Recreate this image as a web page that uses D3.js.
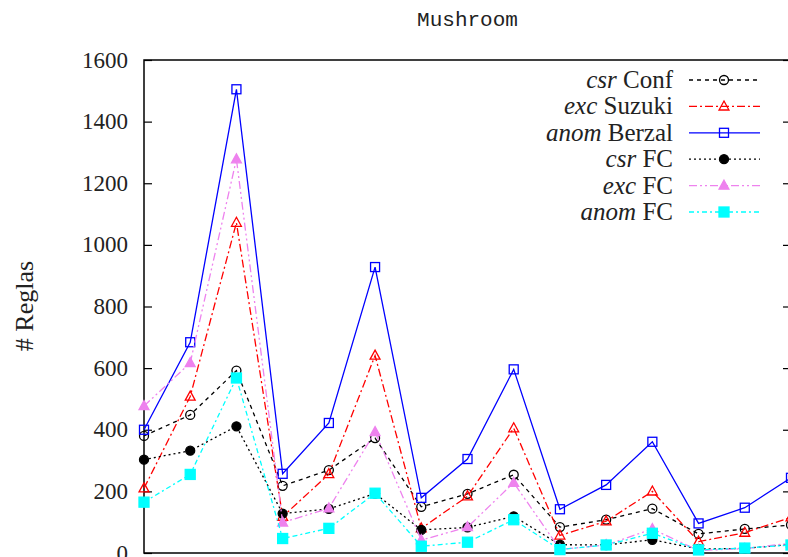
<!DOCTYPE html>
<html>
<head>
<meta charset="utf-8">
<script src="https://cdn.jsdelivr.net/npm/d3@7/dist/d3.min.js"></script>
<style>
  body { margin: 0; background: #fff; }
  #d3Container { width: 788px; height: 557px; overflow: hidden; }
</style>
</head>
<body>
<div id="d3Container"></div>
<script>
const categories = d3.range(15)
const yTicks = [0, 200, 400, 600, 800, 1000, 1200, 1400, 1600]

const csrConf = [380, 448, 592, 218, 269, 373, 150, 192, 254, 84, 108, 144, 62, 78, 91]
const excSuzuki = [210, 508, 1072, 118, 256, 641, 80, 184, 405, 57, 103, 200, 37, 66, 116]
const anomBerzal = [400, 684, 1505, 257, 422, 928, 179, 305, 596, 142, 221, 361, 96, 147, 244]
const csrFC = [303, 332, 411, 128, 143, 193, 75, 83, 119, 27, 26, 43, 13, 15, 28]
const excFC = [477, 617, 1278, 99, 145, 393, 42, 84, 228, 12, 26, 78, 8, 14, 32]
const anomFC = [165, 255, 568, 47, 80, 194, 22, 35, 108, 11, 26, 64, 10, 16, 26]

const series = [
  {it: 'csr', name: 'Conf', values: csrConf, color: '#000', dash: '4,4', marker: 'circle', fill: false},
  {it: 'exc', name: 'Suzuki', values: excSuzuki, color: '#ff0000', dash: '8,3,2,3', marker: 'triangle', fill: false},
  {it: 'anom', name: 'Berzal', values: anomBerzal, color: '#0000ff', dash: null, marker: 'square', fill: false},
  {it: 'csr', name: 'FC', values: csrFC, color: '#000', dash: '2,3', marker: 'circle', fill: true},
  {it: 'exc', name: 'FC', values: excFC, color: '#ee82ee', dash: '8,3,2,3,2,3', marker: 'triangle', fill: true},
  {it: 'anom', name: 'FC', values: anomFC, color: '#00ffff', dash: '5,3,2,3', marker: 'square', fill: true}
]

const width = 788
const height = 557
const plot = {left: 144, right: 791, top: 60, bottom: 553}
const SERIF = '"Liberation Serif", "DejaVu Serif", serif'

const xScale = d3.scaleLinear().domain([0, categories.length - 1]).range([plot.left, plot.right])
const yScale = d3.scaleLinear().domain([0, 1600]).range([plot.bottom, plot.top])

const svg = d3.select('#d3Container')
  .append('svg')
  .attr('width', width)
  .attr('height', height)

// frame
svg.append('rect')
  .attr('x', plot.left).attr('y', plot.top)
  .attr('width', plot.right - plot.left).attr('height', plot.bottom - plot.top)
  .attr('fill', 'none').attr('stroke', '#000').attr('stroke-width', 1.5)

// y axis left + mirrored right, ticks inward
svg.append('g').attr('transform', `translate(${plot.left}, 0)`)
  .call(d3.axisRight(yScale).tickValues(yTicks).tickSize(8).tickFormat(''))
  .call(g => g.select('.domain').remove())
  .call(g => g.selectAll('line').attr('stroke-width', 1.2))

svg.append('g').attr('transform', `translate(${plot.right}, 0)`)
  .call(d3.axisLeft(yScale).tickValues(yTicks).tickSize(8).tickFormat(''))
  .call(g => g.select('.domain').remove())
  .call(g => g.selectAll('line').attr('stroke-width', 1.2))

svg.selectAll('text.ylab')
  .data(yTicks)
  .enter()
  .append('text')
  .classed('ylab', true)
  .attr('x', 128).attr('y', d => yScale(d)).attr('dy', 7.5)
  .attr('text-anchor', 'end').attr('font-family', SERIF).attr('font-size', 23).attr('fill', '#222')
  .text(d => d)

// title and y label
svg.append('text')
  .attr('x', (plot.left + plot.right) / 2).attr('y', 26)
  .attr('text-anchor', 'middle').attr('font-family', '"Liberation Mono", "DejaVu Sans Mono", monospace')
  .attr('font-size', 21).attr('fill', '#222')
  .text('Mushroom')

svg.append('text')
  .attr('transform', 'translate(33, 306) rotate(-90)')
  .attr('text-anchor', 'middle').attr('font-family', SERIF).attr('font-size', 26).attr('fill', '#222')
  .text('# Reglas')

function drawMarker(sel, s, size) {
  const fill = s.fill ? s.color : 'none'
  if (s.marker === 'circle') {
    sel.append('circle').attr('r', 4.5)
      .attr('fill', fill).attr('stroke', s.color).attr('stroke-width', 1.3)
  } else if (s.marker === 'square') {
    const a = s.fill ? size + 1 : size
    sel.append('rect').attr('x', -a / 2).attr('y', -a / 2).attr('width', a).attr('height', a)
      .attr('fill', fill).attr('stroke', s.color).attr('stroke-width', 1.3)
  } else {
    const h = size
    sel.append('path')
      .attr('d', `M0,${-h * 0.6} L${h * 0.55},${h * 0.4} L${-h * 0.55},${h * 0.4} Z`)
      .attr('fill', fill).attr('stroke', s.color).attr('stroke-width', 1.3)
  }
}

const line = d3.line().x((d, i) => xScale(categories[i])).y(d => yScale(d))

const plotG = svg.append('g')

series.forEach(s => {
  plotG.append('path')
    .datum(s.values)
    .attr('d', line)
    .attr('fill', 'none').attr('stroke', s.color).attr('stroke-width', 1.3)
    .attr('stroke-dasharray', s.dash)

  plotG.selectAll(null)
    .data(s.values)
    .enter()
    .append('g')
    .attr('transform', (d, i) => `translate(${xScale(categories[i])}, ${yScale(d)})`)
    .each(function () { drawMarker(d3.select(this), s, 9) })
})

// legend
const legend = svg.append('g')
series.forEach((s, i) => {
  const y = 80 + i * 26.4
  const t = legend.append('text')
    .attr('x', 673).attr('y', y).attr('dy', 8)
    .attr('text-anchor', 'end').attr('font-family', SERIF).attr('font-size', 25).attr('fill', '#222')
  t.append('tspan').attr('font-style', 'italic').text(s.it)
  t.append('tspan').text(' ' + s.name)

  legend.append('line')
    .attr('x1', 689).attr('x2', 760).attr('y1', y).attr('y2', y)
    .attr('stroke', s.color).attr('stroke-width', 1.3).attr('stroke-dasharray', s.dash)
  legend.append('g').attr('transform', `translate(724, ${y})`)
    .call(g => drawMarker(g, s, 9))
})
</script>
</body>
</html>
